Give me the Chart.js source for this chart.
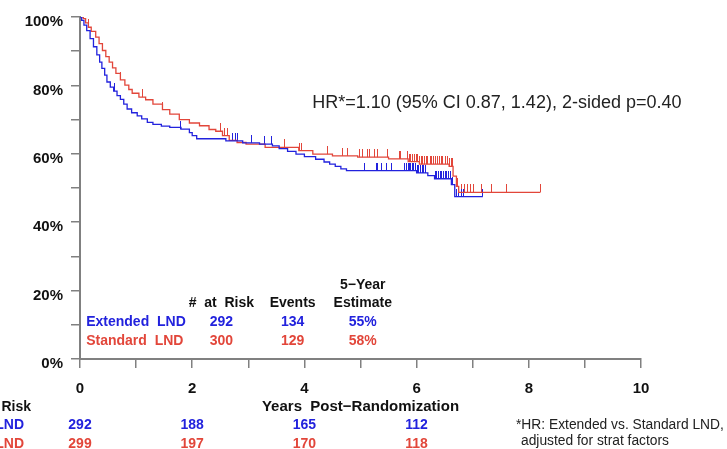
<!DOCTYPE html>
<html>
<head>
<meta charset="utf-8">
<script src="https://cdn.jsdelivr.net/npm/chart.js@4"></script>
<style>
  html, body { margin: 0; padding: 0; background: #fff; }
  canvas { display: block; }
</style>
</head>
<body>
<canvas id="km-chart" width="727" height="449"></canvas>
<script>
// Kaplan-Meier steps (years, % surviving after the event)
const extTimes = [0, 0.03, 0.07, 0.12, 0.18, 0.24, 0.3, 0.35, 0.39, 0.44, 0.48, 0.54, 0.6, 0.66, 0.72, 0.78, 0.84, 0.92, 1.02, 1.1, 1.2, 1.3, 1.45, 1.6, 1.8, 1.95, 2.0, 2.08, 2.6, 2.9, 3.2, 3.43, 3.55, 3.7, 3.85, 4.0, 4.2, 4.35, 4.45, 4.55, 4.65, 4.75, 6.0, 6.2, 6.32, 6.62, 6.68, 7.18];
const extSurv  = [100, 99, 97.6, 96, 93.7, 91.3, 88.9, 86.8, 85, 83, 81, 79.5, 78.3, 77, 75.9, 74.5, 73.1, 72, 71.1, 70.2, 69.2, 68.6, 68.1, 67.7, 67.2, 66.2, 65.3, 64.4, 63.8, 63.2, 62.8, 62.3, 61.5, 60.7, 59.9, 59.2, 58.4, 57.6, 57.0, 56.3, 55.6, 55.1, 54.4, 53.6, 52.7, 51.0, 47.5, 47.5];

const stdTimes = [0, 0.06, 0.1, 0.15, 0.2, 0.28, 0.34, 0.4, 0.46, 0.52, 0.58, 0.64, 0.72, 0.8, 0.87, 0.93, 1.05, 1.17, 1.3, 1.47, 1.6, 1.77, 1.95, 2.13, 2.3, 2.42, 2.54, 2.66, 2.8, 2.96, 3.3, 3.9, 4.15, 4.5, 4.95, 5.5, 5.85, 6.05, 6.58, 6.65, 6.71, 6.75, 8.2];
const stdSurv  = [100, 99.5, 98.3, 97, 95.8, 94.1, 92.2, 90.2, 88.4, 86.8, 85.1, 83.5, 81.6, 80.1, 78.8, 77.7, 76.6, 75.8, 74.5, 72.9, 71.6, 70, 69, 68.2, 67.1, 66.6, 65.3, 63.9, 63.3, 62.8, 61.9, 60.9, 59.9, 59.4, 59.0, 58.5, 57.7, 57.0, 56.3, 53.5, 50.5, 48.7, 48.7];

// censoring times
const extCensor = [0.61, 1.8, 2.72, 2.78, 2.81, 3.05, 3.29, 3.41, 5.07, 5.28, 5.31, 5.37, 5.46, 5.55,
  5.79, 5.82, 5.85, 5.87, 5.9, 5.93, 5.95, 5.98, 6.01, 6.04, 6.07, 6.1, 6.13, 6.16,
  6.33, 6.36, 6.39, 6.42, 6.45, 6.48, 6.51, 6.54, 6.57, 6.6, 6.64, 6.71, 6.74, 6.8, 6.83, 7.18];
const stdCensor = [0.16, 0.73, 1.11, 1.47, 2.51, 2.57, 2.63, 3.64, 3.91, 3.94, 4.42, 4.68, 4.77, 4.98, 5.04, 5.13, 5.16, 5.25, 5.31, 5.49, 5.7, 5.72,
  5.84, 5.87, 5.9, 5.93, 5.96, 5.99, 6.02, 6.05, 6.08, 6.11, 6.14, 6.17, 6.2,
  6.24, 6.27, 6.3, 6.34, 6.37, 6.4, 6.44, 6.47, 6.51, 6.55, 6.59, 6.62, 6.64,
  6.73, 6.8, 6.85, 6.9, 6.96, 7.02, 7.16, 7.34, 7.6, 8.2];

// number at risk under the axis
const riskYears = [0, 2, 4, 6];
const extRisk = [292, 188, 165, 112];
const stdRisk = [299, 197, 170, 118];

// summary table inside the plot
const groupNames = ['Extended  LND', 'Standard  LND'];
const groupAtRisk = [292, 300];
const groupEvents = [134, 129];
const groupEst5 = ['55%', '58%'];

const hrText = 'HR*=1.10 (95% CI 0.87, 1.42), 2-sided p=0.40';

const BLUE = '#2222dd';
const RED = '#e2463a';
const AXIS = '#808080';

function steps(times, surv) {
  return times.map((t, i) => ({ x: t, y: surv[i] }));
}

function survAt(times, surv, t) {
  let s = surv[0];
  for (let i = 0; i < times.length; i++) {
    if (times[i] <= t) s = surv[i];
  }
  return s;
}

function censorPoints(cens, times, surv) {
  return cens.map(t => ({ x: t, y: survAt(times, surv, t) }));
}

// small vertical tick that sits on top of the curve
function censorMark(color) {
  const c = document.createElement('canvas');
  c.width = 1;
  c.height = 16;
  const g = c.getContext('2d');
  g.fillStyle = color;
  g.fillRect(0, 0, 1, 8);
  return c;
}

const textPlugin = {
  id: 'kmText',
  afterDraw(chart) {
    const ctx = chart.ctx;
    const xs = chart.scales.x;
    const ys = chart.scales.y;
    const px = v => xs.getPixelForValue(v);
    const py = v => ys.getPixelForValue(v);
    ctx.save();
    ctx.textBaseline = 'middle';

    // HR text
    ctx.font = '18px "Liberation Sans", Arial, sans-serif';
    ctx.fillStyle = '#222';
    ctx.textAlign = 'left';
    ctx.fillText(hrText, px(4.14), py(74.9));

    // summary table
    ctx.font = 'bold 14px "Liberation Sans", Arial, sans-serif';
    ctx.textAlign = 'center';
    ctx.fillStyle = '#111';
    ctx.fillText('5\u2212Year', px(5.04), py(21.7));
    ctx.fillText('Estimate', px(5.04), py(16.2));
    ctx.fillText('Events', px(3.79), py(16.2));
    ctx.fillText('#  at  Risk', px(2.52), py(16.2));
    const rowY = [10.7, 5.2];
    const rowCol = [BLUE, RED];
    for (let i = 0; i < 2; i++) {
      ctx.fillStyle = rowCol[i];
      ctx.textAlign = 'left';
      ctx.fillText(groupNames[i], px(0.11), py(rowY[i]));
      ctx.textAlign = 'center';
      ctx.fillText(String(groupAtRisk[i]), px(2.52), py(rowY[i]));
      ctx.fillText(String(groupEvents[i]), px(3.79), py(rowY[i]));
      ctx.fillText(groupEst5[i], px(5.04), py(rowY[i]));
    }

    // axis title
    ctx.fillStyle = '#111';
    ctx.font = 'bold 15px "Liberation Sans", Arial, sans-serif';
    ctx.textAlign = 'center';
    ctx.fillText('Years  Post\u2212Randomization', (xs.left + xs.right) / 2, 407);

    // number at risk table
    ctx.font = 'bold 14px "Liberation Sans", Arial, sans-serif';
    ctx.textAlign = 'right';
    ctx.fillText('#  at  Risk', 31, 407);
    ctx.fillStyle = BLUE;
    ctx.fillText('Extended  LND', 24, 425);
    ctx.fillStyle = RED;
    ctx.fillText('Standard  LND', 24, 444);
    ctx.textAlign = 'center';
    riskYears.forEach((yr, i) => {
      ctx.fillStyle = BLUE;
      ctx.fillText(String(extRisk[i]), px(yr), 425);
      ctx.fillStyle = RED;
      ctx.fillText(String(stdRisk[i]), px(yr), 444);
    });

    // footnote
    ctx.fillStyle = '#222';
    ctx.font = '13.8px "Liberation Sans", Arial, sans-serif';
    ctx.textAlign = 'left';
    ctx.fillText('*HR: Extended vs. Standard LND,', 516, 425);
    ctx.fillText('adjusted for strat factors', 521, 441);
    ctx.restore();
  }
};

new Chart(document.getElementById('km-chart').getContext('2d'), {
  type: 'line',
  data: {
    datasets: [
      {
        label: 'Extended LND',
        data: steps(extTimes, extSurv),
        borderColor: BLUE,
        borderWidth: 1.3,
        stepped: true,
        pointRadius: 0
      },
      {
        label: 'Standard LND',
        data: steps(stdTimes, stdSurv),
        borderColor: RED,
        borderWidth: 1.3,
        stepped: true,
        pointRadius: 0
      },
      {
        label: 'Extended censored',
        data: censorPoints(extCensor, extTimes, extSurv),
        showLine: false,
        pointStyle: censorMark(BLUE),
        pointRadius: 3
      },
      {
        label: 'Standard censored',
        data: censorPoints(stdCensor, stdTimes, stdSurv),
        showLine: false,
        pointStyle: censorMark(RED),
        pointRadius: 3
      }
    ]
  },
  options: {
    responsive: false,
    animation: false,
    devicePixelRatio: 1,
    layout: { padding: { top: 12, right: 86, left: 0, bottom: 0 } },
    plugins: {
      legend: { display: false },
      tooltip: { enabled: false }
    },
    scales: {
      x: {
        type: 'linear',
        min: 0,
        max: 10,
        afterFit(scale) { scale.height = 90; },
        border: { display: true, color: AXIS, width: 2 },
        grid: { drawOnChartArea: false, drawTicks: true, tickLength: 9, color: AXIS, lineWidth: 1.5 },
        ticks: {
          stepSize: 1,
          autoSkip: false,
          maxRotation: 0,
          padding: 12,
          color: '#111',
          font: { family: '"Liberation Sans", Arial, sans-serif', size: 15, weight: 'bold' },
          callback: v => (v % 2 === 0 ? String(v) : '')
        }
      },
      y: {
        min: 0,
        max: 100,
        afterFit(scale) { scale.width = 80; },
        border: { display: true, color: AXIS, width: 2 },
        grid: { drawOnChartArea: false, drawTicks: true, tickLength: 9, color: AXIS, lineWidth: 1.5 },
        ticks: {
          stepSize: 10,
          autoSkip: false,
          padding: 8,
          labelOffset: 5,
          color: '#111',
          font: { family: '"Liberation Sans", Arial, sans-serif', size: 15, weight: 'bold' },
          callback: v => (v % 20 === 0 ? v + '%' : '')
        }
      }
    }
  },
  plugins: [textPlugin]
});
</script>
</body>
</html>
